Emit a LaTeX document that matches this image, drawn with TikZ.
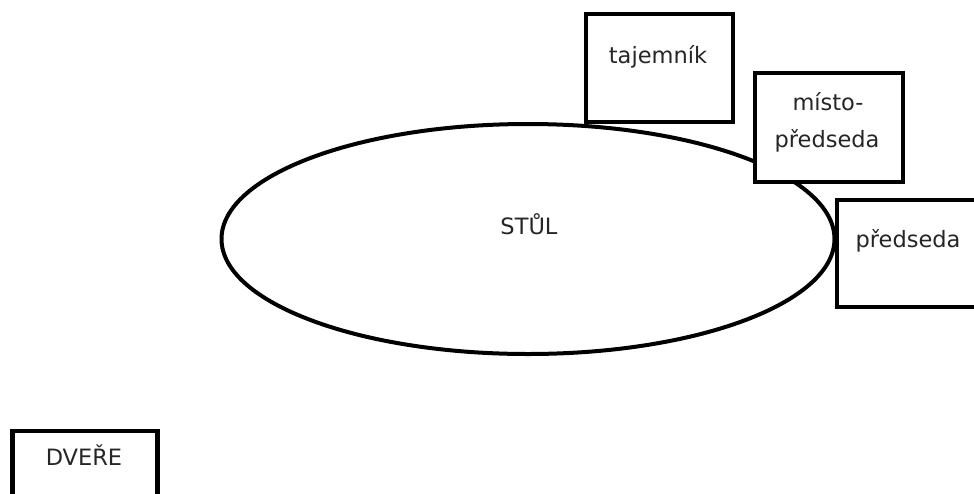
\documentclass[tikz,border=0pt]{standalone}
\usepackage{fontspec}
\setmainfont{DejaVu Sans}
\usetikzlibrary{shapes.geometric}
\begin{document}
\begin{tikzpicture}[x=1pt,y=-1pt,
  seat/.style={draw=black, fill=white, line width=4.4pt, rectangle, inner sep=0pt},
  desk/.style={draw=black, line width=4pt, ellipse, inner sep=0pt},
  lbl/.style={font=\fontsize{22.5}{27}\selectfont, anchor=base, inner sep=0pt, text=black!85}]
\useasboundingbox (0,0) rectangle (974,493);
\clip (0,0) rectangle (974,493);
% table
\node[desk, minimum width=613pt, minimum height=230pt] (stul) at (528,239) {};
% seats
\node[seat, minimum width=147pt, minimum height=108pt] (taj) at (659.5,68) {};
\node[seat, minimum width=148pt, minimum height=109pt] (misto) at (829,127.5) {};
\node[seat, minimum width=148pt, minimum height=107pt] (pred) at (911,253.5) {};
\node[seat, minimum width=145pt, minimum height=108pt] (dvere) at (85,485) {};
% labels
\node[lbl] (tstul) at (529,234) {STŮL};
\node[lbl] (ttaj) at (658,63) {tajemník};
\node[lbl] (tmisto1) at (828,110) {místo-};
\node[lbl] (tmisto2) at (827,147) {předseda};
\node[lbl] (tpred) at (908,247) {předseda};
\node[lbl] (tdvere) at (84,465) {DVEŘE};
\end{tikzpicture}
\end{document}
